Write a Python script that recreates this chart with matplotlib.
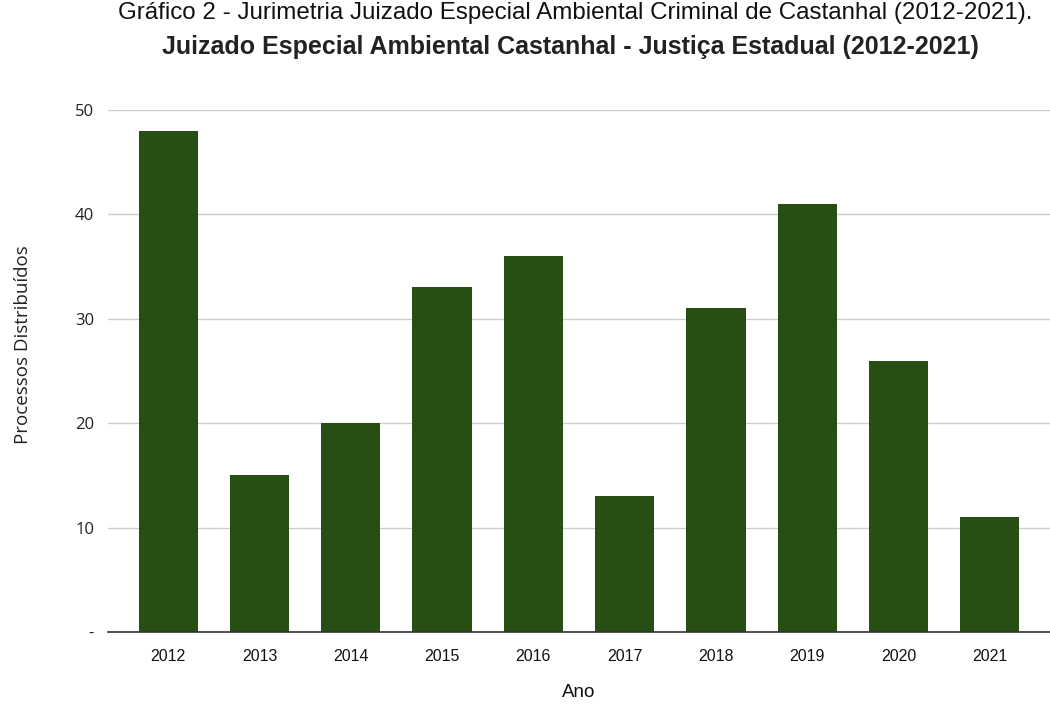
import matplotlib
matplotlib.use("Agg")
import matplotlib.pyplot as plt

anos = ["2012", "2013", "2014", "2015", "2016", "2017", "2018", "2019", "2020", "2021"]
processos = [48, 15, 20, 33, 36, 13, 31, 41, 26, 11]
y_ticks = [0, 10, 20, 30, 40, 50]
y_tick_labels = ["-", "10", "20", "30", "40", "50"]

arial = "Liberation Sans"
texto = "#222222"

fig = plt.figure(figsize=(10.5, 7.24), dpi=100)
ax = fig.add_axes([108 / 1050, 1 - 632 / 724, 1 - 108 / 1050, (632 - 110) / 724])

ax.bar(range(len(anos)), processos, width=0.65, color="#274e13", zorder=3)

ax.set_xlim(-0.66, 9.66)
ax.set_ylim(0, 50)
ax.set_yticks(y_ticks)
ax.set_yticklabels(y_tick_labels, fontsize=12, family="Open Sans", color=texto)
ax.set_xticks(range(len(anos)))
ax.set_xticklabels(anos, fontsize=11.5, family=arial, color="#111111")
ax.tick_params(axis="y", length=0, pad=10)
ax.tick_params(axis="x", length=0, pad=12)
ax.yaxis.grid(True, color="#cccccc", linewidth=1, zorder=0)
for s in ["top", "right", "left"]:
    ax.spines[s].set_visible(False)
ax.spines["bottom"].set_color("#333333")
ax.spines["bottom"].set_linewidth(1.2)
ax.spines["bottom"].set_zorder(4)

ax.set_xlabel("Ano", fontsize=13.5, family=arial, color="#111111")
ax.xaxis.set_label_coords(0.5, -0.1)
ax.set_ylabel("Processos Distribuídos", fontsize=13.5, family="Open Sans", color=texto)
ax.yaxis.set_label_coords(-0.081, 0.55)

fig.text(0.548, 0.997, "Gráfico 2 - Jurimetria Juizado Especial Ambiental Criminal de Castanhal (2012-2021).",
         ha="center", va="top", fontsize=17.4, family=arial, color="#111111")
fig.text(0.543, 0.952, "Juizado Especial Ambiental Castanhal - Justiça Estadual (2012-2021)",
         ha="center", va="top", fontsize=18, family=arial, weight="bold", color=texto)

fig.savefig("out.png", dpi=100)
